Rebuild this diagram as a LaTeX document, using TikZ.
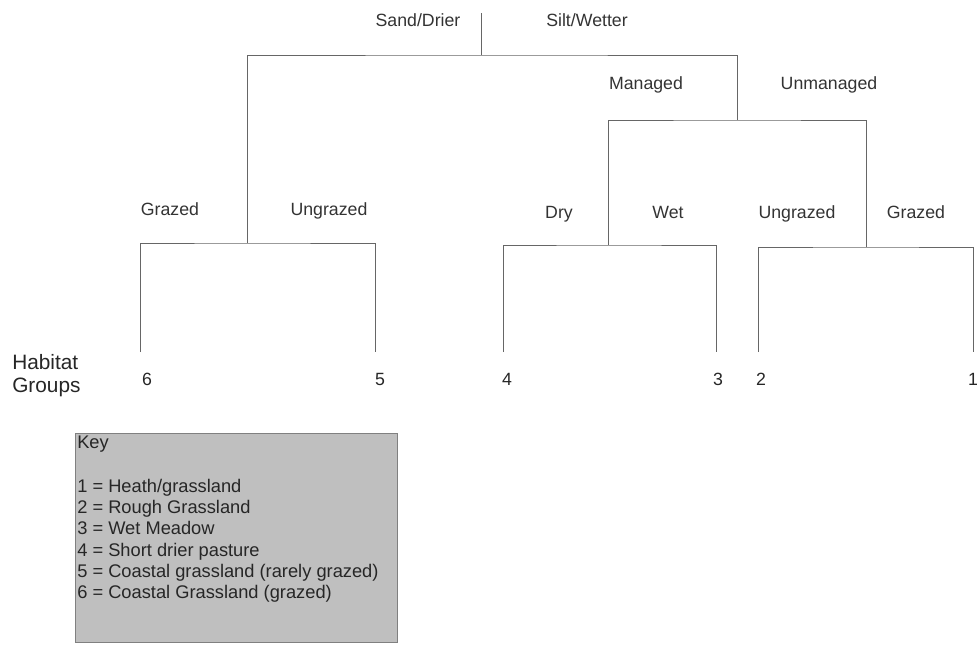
\documentclass[tikz,border=0pt]{standalone}
\usepackage{fontspec}
\setmainfont{Liberation Sans}
\tikzset{
  branch/.style={
    draw=black!60,
    line width=0.7pt
  },
  split/.style={
    text=black!80,
    font=\fontsize{12.6}{15}\selectfont,
    inner sep=0pt,
    anchor=base
  },
  group/.style={
    text=black!85,
    font=\fontsize{12.6}{15}\selectfont,
    inner sep=0pt,
    anchor=base
  },
  keybox/.style={
    draw=black!50,
    fill=black!25,
    line width=0.6pt
  },
  keytext/.style={
    text=black!85,
    font=\fontsize{13}{15}\selectfont,
    inner sep=0pt,
    anchor=base west
  }
}

\begin{document}
\begin{tikzpicture}[x=0.025cm,y=-0.025cm]
  \useasboundingbox (0,0) rectangle (979,647);

  % junctions of the tree
  \coordinate (top) at (481,13);
  \coordinate (root) at (481,55);
  \coordinate (jsand) at (247,243);
  \coordinate (jsilt) at (737,120);
  \coordinate (jmgd) at (608,245);
  \coordinate (junm) at (866,247);
  % leaves
  \coordinate (l6) at (140,352);
  \coordinate (l5) at (375,352);
  \coordinate (l4) at (503,352);
  \coordinate (l3) at (716,352);
  \coordinate (l2) at (758,352);
  \coordinate (l1) at (973,352);

  \draw[branch] (top) -- (root);
  \draw[branch] (jsand) |- (root) -| (jsilt);
  \draw[branch] (jmgd) |- (jsilt) -| (junm);
  \draw[branch] (l6) |- (jsand) -| (l5);
  \draw[branch] (l4) |- (jmgd) -| (l3);
  \draw[branch] (l2) |- (junm) -| (l1);

  % split labels
  \node[split] (sand) at (418,26.3) {Sand/Drier};
  \node[split] (silt) at (587,26.3) {Silt/Wetter};
  \node[split] (managed) at (646,89.5) {Managed};
  \node[split] (unmanaged) at (829,89.5) {Unmanaged};
  \node[split] (grazedA) at (170,215.5) {Grazed};
  \node[split] (ungrazedA) at (329,215.5) {Ungrazed};
  \node[split] (dry) at (559,218) {Dry};
  \node[split] (wet) at (668,218) {Wet};
  \node[split] (ungrazedB) at (797,218) {Ungrazed};
  \node[split] (grazedB) at (916,218) {Grazed};

  % habitat groups
  \node[keytext, font=\fontsize{14.8}{17}\selectfont] (habitat) at (12,369.5) {Habitat};
  \node[keytext, font=\fontsize{14.8}{17}\selectfont] (groups) at (12,392.5) {Groups};
  \node[group] (n6) at (147,385) {6};
  \node[group] (n5) at (380,385) {5};
  \node[group] (n4) at (507,385) {4};
  \node[group] (n3) at (718,385) {3};
  \node[group] (n2) at (761,385) {2};
  \node[group] (n1) at (973,385) {1};

  % key
  \draw[keybox] (75,433) rectangle (397,642);
  \node[keytext] (keyhead) at (77,448.5) {Key};
  \foreach \txt [count=\i] in {1 = Heath/grassland, 2 = Rough Grassland,
      3 = Wet Meadow, 4 = Short drier pasture,
      5 = Coastal grassland (rarely grazed), 6 = Coastal Grassland (grazed)}
    \node[keytext] (key\i) at (77,471.3+21.2*\i) {\txt};
\end{tikzpicture}
\end{document}
